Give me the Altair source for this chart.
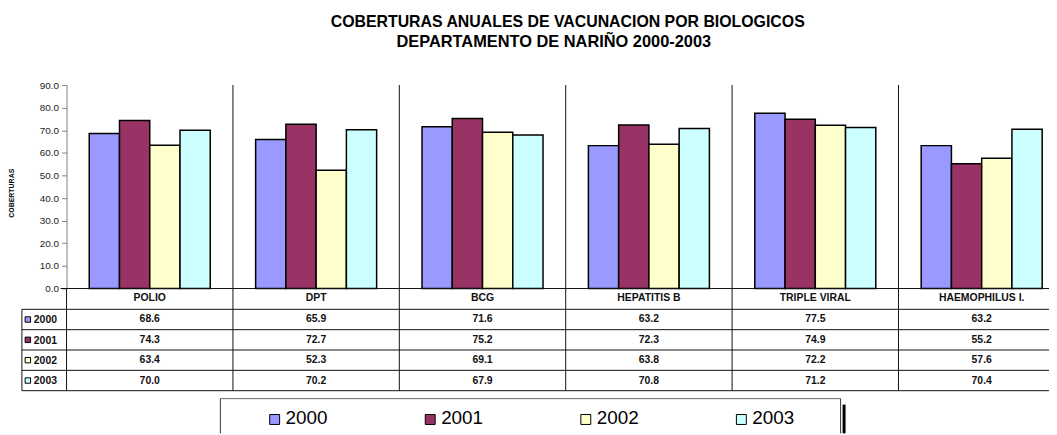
import altair as alt
import pandas as pd

# ---------------- data ----------------
categories = ["POLIO", "DPT", "BCG", "HEPATITIS B", "TRIPLE VIRAL", "HAEMOPHILUS I."]
years = ["2000", "2001", "2002", "2003"]
v2000 = [68.6, 65.9, 71.6, 63.2, 77.5, 63.2]
v2001 = [74.3, 72.7, 75.2, 72.3, 74.9, 55.2]
v2002 = [63.4, 52.3, 69.1, 63.8, 72.2, 57.6]
v2003 = [70.0, 70.2, 67.9, 70.8, 71.2, 70.4]
colors = ["#9999FF", "#993366", "#FFFFCC", "#CCFFFF"]
y_ticks = [0, 10, 20, 30, 40, 50, 60, 70, 80, 90]
title_line1 = "COBERTURAS ANUALES DE VACUNACION POR BIOLOGICOS"
title_line2 = "DEPARTAMENTO DE NARIÑO 2000-2003"
y_title = "COBERTURAS"

series = {"2000": v2000, "2001": v2001, "2002": v2002, "2003": v2003}
df = pd.DataFrame(
    [{"cat": c, "year": y, "value": series[y][i]} for y in years for i, c in enumerate(categories)]
)
cat_df = pd.DataFrame({"cat": categories})
year_df = pd.DataFrame({"year": years})

FONT = "Liberation Sans"
W, H = 1049, 427
X_RANGE = [59, 1065]
ROW_RANGE = [302, 384]


def xcat(**kw):
    return alt.X(
        "cat:N",
        scale=alt.Scale(type="band", domain=categories, range=X_RANGE, paddingInner=0, paddingOuter=0),
        axis=None,
        **kw,
    )


def yrow(**kw):
    return alt.Y(
        "year:N",
        scale=alt.Scale(type="band", domain=years, range=ROW_RANGE, paddingInner=0, paddingOuter=0),
        axis=None,
        **kw,
    )


color = alt.Color("year:N", scale=alt.Scale(domain=years, range=colors), legend=None)

bars = alt.Chart(df).mark_bar(stroke="black", strokeWidth=1.5).encode(
    x=xcat(),
    xOffset=alt.XOffset("year:N", scale=alt.Scale(domain=years, paddingInner=0, paddingOuter=0.75)),
    y=alt.Y(
        "value:Q",
        scale=alt.Scale(domain=[0, 90], range=[281, 76], nice=False),
        axis=alt.Axis(
            values=y_ticks, format=".1f", offset=-59, grid=False, title=None,
            domainColor="#808080", tickColor="#808080", tickSize=5,
            labelFont=FONT, labelFontSize=10, labelColor="#222222", labelPadding=3,
        ),
    ),
    color=color,
)

# separators between categories
sep = alt.Chart(pd.DataFrame({"cat": categories[1:]})).mark_rule(color="#111111").encode(
    x=xcat(bandPosition=0), y=alt.value(76), y2=alt.value(384)
)
sep_first = alt.Chart(pd.DataFrame({"cat": categories[:1]})).mark_rule(color="#111111").encode(
    x=xcat(bandPosition=0), y=alt.value(281), y2=alt.value(384)
)
left_box = alt.Chart(pd.DataFrame({"k": [0]})).mark_rule(color="#111111").encode(
    x=alt.value(14), y=alt.value(302), y2=alt.value(384)
)
base_line = alt.Chart(pd.DataFrame({"k": [0]})).mark_rule(color="#111111").encode(
    x=alt.value(53), x2=alt.value(W), y=alt.value(281)
)
row_lines = alt.Chart(year_df).mark_rule(color="#111111").encode(
    y=yrow(bandPosition=0), x=alt.value(14), x2=alt.value(W)
)
row_bottom = alt.Chart(pd.DataFrame({"year": years[-1:]})).mark_rule(color="#111111").encode(
    y=yrow(bandPosition=1), x=alt.value(14), x2=alt.value(W)
)

header = alt.Chart(cat_df).mark_text(font=FONT, fontSize=10.5, fontWeight="bold", color="#111111", baseline="middle").encode(
    x=xcat(bandPosition=0.5), y=alt.value(291), text="cat:N"
)
values = alt.Chart(df).mark_text(font=FONT, fontSize=10.5, fontWeight="bold", color="#111111", baseline="middle").encode(
    x=xcat(bandPosition=0.5), y=yrow(bandPosition=0.5), text=alt.Text("value:Q", format=".1f")
)
row_sq = alt.Chart(year_df).mark_square(size=30, stroke="black", strokeWidth=1, opacity=1).encode(
    x=alt.value(20), y=yrow(bandPosition=0.5), color=color
)
row_lbl = alt.Chart(year_df).mark_text(font=FONT, fontSize=10.5, fontWeight="bold", color="#111111", align="left", baseline="middle", dy=1).encode(
    x=alt.value(26), y=yrow(bandPosition=0.5), text="year:N"
)

# legend
leg_x = alt.X("year:N", scale=alt.Scale(type="point", domain=years, range=[268.7, 739], padding=0), axis=None)
leg_sq = alt.Chart(year_df).mark_square(size=100, stroke="black", strokeWidth=1, opacity=1).encode(
    x=leg_x, y=alt.value(413), color=color
)
leg_txt = alt.Chart(year_df).mark_text(font=FONT, fontSize=19, color="#000000", align="left", baseline="middle", dx=11).encode(
    x=leg_x, y=alt.value(412), text="year:N"
)
box_top = alt.Chart(pd.DataFrame({"k": [0]})).mark_rule(color="#666666").encode(
    x=alt.value(214), x2=alt.value(839), y=alt.value(392)
)
box_left = alt.Chart(pd.DataFrame({"k": [0]})).mark_rule(color="#333333").encode(
    x=alt.value(214), y=alt.value(392), y2=alt.value(H)
)
box_right = alt.Chart(pd.DataFrame({"k": [0]})).mark_rule(color="#333333").encode(
    x=alt.value(839), y=alt.value(392), y2=alt.value(H)
)
box_shadow = alt.Chart(pd.DataFrame({"k": [0]})).mark_rule(color="#000000", strokeWidth=3).encode(
    x=alt.value(842.5), y=alt.value(398), y2=alt.value(H)
)

# titles
t1 = alt.Chart(pd.DataFrame({"t": [title_line1]})).mark_text(font=FONT, fontSize=16, fontWeight="bold", color="#000000", baseline="middle").encode(
    x=alt.value(564), y=alt.value(13), text="t:N"
)
t2 = alt.Chart(pd.DataFrame({"t": [title_line2]})).mark_text(font=FONT, fontSize=16.5, fontWeight="bold", color="#000000", baseline="middle").encode(
    x=alt.value(550), y=alt.value(33), text="t:N"
)
ytitle = alt.Chart(pd.DataFrame({"t": [y_title]})).mark_text(font=FONT, fontSize=7, fontWeight="bold", color="#000000", angle=270, baseline="middle").encode(
    x=alt.value(4.5), y=alt.value(185), text="t:N"
)

chart = alt.layer(
    bars, sep, sep_first, left_box, base_line, row_lines, row_bottom,
    header, values, row_sq, row_lbl,
    box_top, box_left, box_right, box_shadow, leg_sq, leg_txt,
    t1, t2, ytitle,
).resolve_scale(x="independent", y="independent").properties(
    width=W, height=H, autosize=alt.AutoSizeParams(type="none"), padding=0,
).configure_view(stroke=None)

chart.save("out.html", embed_options={"renderer": "svg", "actions": False})
